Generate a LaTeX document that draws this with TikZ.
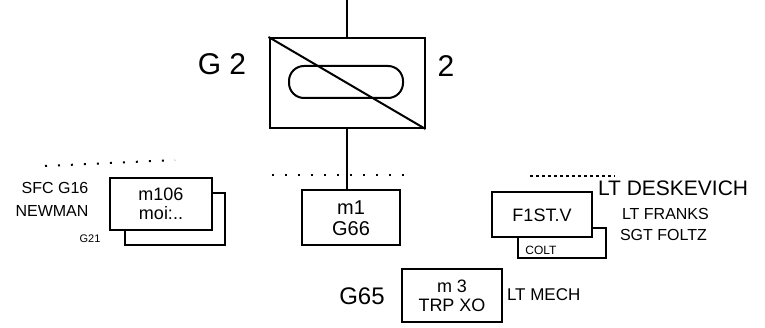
\documentclass[tikz,border=0pt]{standalone}
\usepackage{fontspec}
\setmainfont{Liberation Sans}
\usetikzlibrary{positioning}

\begin{document}
\begin{tikzpicture}[
  x=1pt, y=-1pt,
  line width=2pt,
  unit/.style={draw, fill=white, align=center, inner sep=2pt, font=\fontsize{18}{19}\selectfont},
  lbl/.style={font=\fontsize{16}{17}\selectfont, inner sep=1pt},
  big/.style={font=\fontsize{30}{32}\selectfont, inner sep=1pt},
  dots/.style={line width=2pt, dash pattern=on 2pt off 11pt},
]
\useasboundingbox (0,0) rectangle (765,328);

% headquarters
\node[unit, minimum width=155, minimum height=90] (hq) at (347,83) {};
\node[draw, rounded corners=15pt, minimum width=114, minimum height=32] (pill) at (346,82) {};
\draw (hq.north west) -- (hq.south east);
\coordinate (top) at (hq.north |- 0,0);
\draw (top) -- (hq.north);
\node[big] (hqL) at (222,64) {G 2};
\node[big] (hqR) at (446,66) {2};

% center unit
\node[unit, minimum width=98, minimum height=55, font=\fontsize{20}{21}\selectfont] (mone) at (351,218) {m1\\G66};
\draw (hq.south) -- (hq.south |- mone.north);
\coordinate (cdA) at (272,175);
\coordinate (cdB) at (412,175);
\draw[dots] (cdA) -- (cdB);

% left unit
\node[unit, minimum width=100, minimum height=52] (lback) at (175,219) {};
\node[unit, minimum width=102, minimum height=52] (lfront) at (161,204) {m106\\moi:..};
\coordinate (ldA) at (45,166);
\coordinate (ldB) at (175,160);
\draw[dots] (ldA) -- (ldB);
\node[lbl] (lsfc) at (55,188) {SFC G16};
\node[lbl] (lnew) at (52,211) {NEWMAN};
\node[lbl, font=\fontsize{11}{12}\selectfont] (lgz) at (90,239) {G21};

% right unit
\node[unit, minimum width=88, minimum height=30, anchor=north west] (rback) at (517,227) {};
\node[lbl, font=\fontsize{12}{13}\selectfont] (rcolt) at (541,250) {COLT};
\node[unit, minimum width=100, minimum height=45] (rfront) at (542,215) {F1ST.V};
\coordinate (rdA) at (530,176);
\coordinate (rdB) at (615,176);
\draw[dashed] (rdA) -- (rdB);
\node[lbl, font=\fontsize{21}{22}\selectfont, anchor=west] (rdesk) at (596,188) {LT DESKEVICH};
\node[lbl, anchor=west] (rfra) at (620,214) {LT FRANKS};
\node[lbl, anchor=west] (rfol) at (618,235) {SGT FOLTZ};

% bottom unit
\node[unit, minimum width=100, minimum height=53] (mthree) at (452,296) {m 3\\TRP XO};
\node[lbl, font=\fontsize{24}{25}\selectfont] (bg) at (362,296) {G65};
\node[lbl, font=\fontsize{17}{18}\selectfont, anchor=west] (blt) at (505,295) {LT MECH};

\end{tikzpicture}
\end{document}
